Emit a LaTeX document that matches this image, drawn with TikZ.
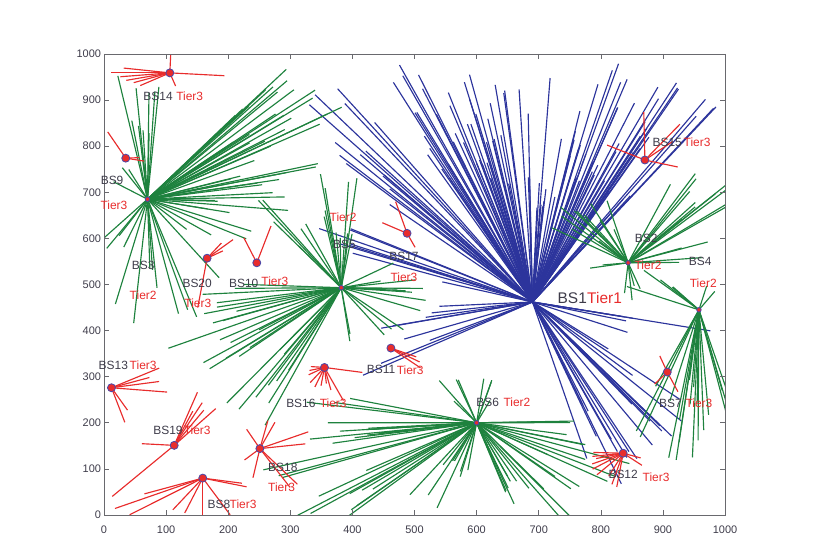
\documentclass[tikz,border=0pt]{standalone}
\usepackage{fontspec}
\setmainfont{Liberation Sans}

\definecolor{tierone}{RGB}{44,52,156}
\definecolor{tiertwo}{RGB}{30,130,62}
\definecolor{tierthree}{RGB}{232,44,44}
\definecolor{labelgray}{RGB}{62,60,74}
\definecolor{framegray}{RGB}{105,105,110}
\definecolor{edgeblue}{RGB}{72,72,170}

% random spokes: style, station, count, angle from, angle to, length from, length to
\newcommand\spokes[7]{%
  \foreach \k in {1,...,#3}{%
    \pgfmathsetmacro\ang{#4+rnd*(#5-#4)}%
    \pgfmathsetmacro\len{#6+rnd*(#7-#6)}%
    \path (#2) ++(\ang:\len) coordinate (user);
    \draw[#1] (#2) -- (user);
  }%
}
% listed spokes: style, station, angle/length list
\newcommand\rays[3]{%
  \foreach \ang/\len in {#3}{%
    \path (#2) ++(\ang:\len) coordinate (user);
    \draw[#1] (#2) -- (user);
  }%
}

\begin{document}
\begin{tikzpicture}[
  x = 0.621bp, y = 0.461bp,
  frame/.style    = {draw=framegray, line width=0.8pt},
  tick/.style     = {draw=framegray, line width=0.6pt},
  num/.style      = {font=\fontsize{11}{11}\selectfont, text=labelgray, inner sep=1pt},
  link1/.style    = {draw=tierone, line width=1.15pt},
  link2/.style    = {draw=tiertwo, line width=1.15pt},
  link3/.style    = {draw=tierthree, line width=1.15pt},
  site/.style     = {circle, fill=tierthree, draw=edgeblue, line width=0.8pt,
                     inner sep=0pt, minimum size=8bp},
  hub/.style      = {site, minimum size=4.5bp},
  bsname/.style   = {font=\fontsize{12}{12}\selectfont, text=labelgray, inner sep=0pt},
  tiername/.style = {font=\fontsize{12}{12}\selectfont, text=tierthree, inner sep=0pt},
]

\useasboundingbox (-167.5,-95.4) rectangle (1143.3,1117.1);

\foreach \n/\x/\y in {%
    1/690/462, 2/844/547, 3/70/685, 4/958/445, 5/382/493,
    6/600/200, 7/907/310, 8/159/80, 9/35/774, 10/246/547,
    11/462/362, 12/836/134, 13/12/276, 14/106/959, 15/871/770,
    16/355/320, 17/488/611, 18/251/144, 19/113/151, 20/166/557%
  }{%
    \coordinate (bs\n) at (\x,\y);
  }

\begin{scope}
  \clip (0,0) rectangle (1000,1000);
  \pgfmathsetseed{4711}

  \spokes{link1}{bs1}{42}{55}{80}{250}{540}
  \spokes{link1}{bs1}{30}{80}{105}{200}{520}
  \spokes{link1}{bs1}{36}{105}{135}{300}{570}
  \spokes{link1}{bs1}{8}{135}{160}{250}{380}
  \spokes{link1}{bs1}{10}{160}{212}{120}{320}
  \spokes{link1}{bs1}{18}{-78}{-45}{200}{440}
  \spokes{link1}{bs1}{8}{-45}{-10}{120}{340}

  \spokes{link2}{bs3}{24}{25}{55}{180}{380}
  \spokes{link2}{bs3}{10}{0}{25}{100}{300}
  \spokes{link2}{bs3}{10}{-60}{0}{80}{230}
  \spokes{link2}{bs3}{8}{-105}{-70}{120}{270}
  \spokes{link2}{bs3}{4}{-135}{-110}{60}{130}
  \spokes{link2}{bs3}{10}{85}{103}{100}{285}
  \spokes{link2}{bs3}{3}{110}{150}{40}{80}

  \spokes{link2}{bs5}{16}{80}{130}{100}{270}
  \spokes{link2}{bs5}{22}{195}{250}{160}{330}
  \spokes{link2}{bs5}{6}{175}{195}{140}{230}
  \spokes{link2}{bs5}{14}{-95}{40}{60}{160}

  \spokes{link2}{bs6}{12}{165}{190}{150}{320}
  \spokes{link2}{bs6}{14}{190}{225}{180}{360}
  \spokes{link2}{bs6}{16}{235}{300}{90}{200}
  \spokes{link2}{bs6}{14}{-60}{-15}{120}{300}
  \spokes{link2}{bs6}{4}{-15}{5}{100}{170}
  \spokes{link2}{bs6}{8}{60}{150}{40}{110}

  \spokes{link2}{bs2}{12}{95}{150}{60}{170}
  \spokes{link2}{bs2}{12}{30}{70}{100}{250}
  \spokes{link2}{bs2}{4}{0}{25}{70}{150}
  \spokes{link2}{bs2}{4}{255}{300}{40}{110}
  \spokes{link2}{bs2}{2}{175}{200}{40}{80}

  \spokes{link2}{bs4}{20}{245}{285}{150}{330}
  \spokes{link2}{bs4}{5}{125}{160}{60}{130}
  \spokes{link2}{bs4}{2}{55}{80}{40}{90}

  \rays{link3}{bs14}{172/75, 180/95, 186/80, 193/72, 200/62, 210/55, -4/88, -72/30, 88/40}
  \rays{link3}{bs9}{117/64, -12/30, 3/22}
  \rays{link3}{bs20}{44/58, 55/40, 32/30, 262/108}
  \rays{link3}{bs10}{111/58, 74/83}
  \rays{link3}{bs17}{150/46, 105/71, -67/33}
  \rays{link3}{bs15}{152/69, -16/55, 91/104, 54/96, 42/60}
  \rays{link3}{bs13}{29/88, 20/65, 10/78, -6/90, -74/78, -62/55}
  \rays{link3}{bs16}{-10/62, 175/22, 195/25, 212/30, 235/40, 250/45, 262/40, 275/35, -67/78, -78/50}
  \rays{link3}{bs11}{-42/64, -33/55, -25/45}
  \rays{link3}{bs19}{50/104, 58/90, 64/103, 68/80, 72/121, 176/52, 228/149}
  \rays{link3}{bs18}{25/86, 8/74, 67/62, 78/62, 117/47, 225/35, 260/64, -52/98, -60/97}
  \rays{link3}{bs8}{200/100, 205/156, 214/142, 235/84, 249/81, 270/80, -61/91, -15/73, -10/64}
  \rays{link3}{bs7}{109/37, 232/33, -68/46}
  \rays{link3}{bs12}{178/48, 188/50, 195/45, 205/55, 215/60, 228/63, 245/55, 255/70, 262/74, -41/40, -20/30}
\end{scope}

\foreach \n in {2,...,6}{%
    \node[hub] (dot\n) at (bs\n) {};
  }
\foreach \n in {7,...,20}{%
    \node[site] (dot\n) at (bs\n) {};
  }

\draw[frame] (0,0) rectangle (1000,1000);
\foreach \v in {0,100,...,1000}{%
    \draw[tick] (\v,0) -- ++(0,11);
    \draw[tick] (\v,1000) -- ++(0,-11);
    \draw[tick] (0,\v) -- ++(8,0);
    \draw[tick] (1000,\v) -- ++(-8,0);
    \node[num, anchor=north] (xnum\v) at (\v,-20) {\v};
    \node[num, anchor=east] (ynum\v) at (-3,\v) {\v};
  }

\foreach \n/\x/\y in {%
    2/873/601, 3/63/542, 4/960/551, 5/387/586, 6/618/245,
    7/912/243, 8/185/24, 9/13/725, 10/225/503, 11/446/315,
    12/836/87, 13/15/325, 14/87/909, 15/907/809, 16/317/243,
    17/483/560, 18/288/104, 19/103/184, 20/150/503%
  }{%
    \node[bsname] (name\n) at (\x,\y) {BS\n};
  }
\foreach \n/\t/\x/\y in {%
    2/2/876/542, 3/2/63/477, 4/2/965/503, 5/2/385/646, 6/2/665/245,
    7/3/958/243, 8/3/224/24, 9/3/16/672, 10/3/275/508, 11/3/493/315,
    12/3/889/82, 13/3/63/325, 14/3/138/909, 15/3/955/809, 16/3/369/243,
    17/3/483/516, 18/3/286/61, 19/3/150/184, 20/3/151/460%
  }{%
    \node[tiername] (tier\n) at (\x,\y) {Tier\t};
  }
\node[bsname, font=\fontsize{15.5}{15.5}\selectfont] (name1) at (754,471) {BS1};
\node[tiername, font=\fontsize{15.5}{15.5}\selectfont, anchor=west] (tier1) at (name1.east) {Tier1};

\end{tikzpicture}
\end{document}
